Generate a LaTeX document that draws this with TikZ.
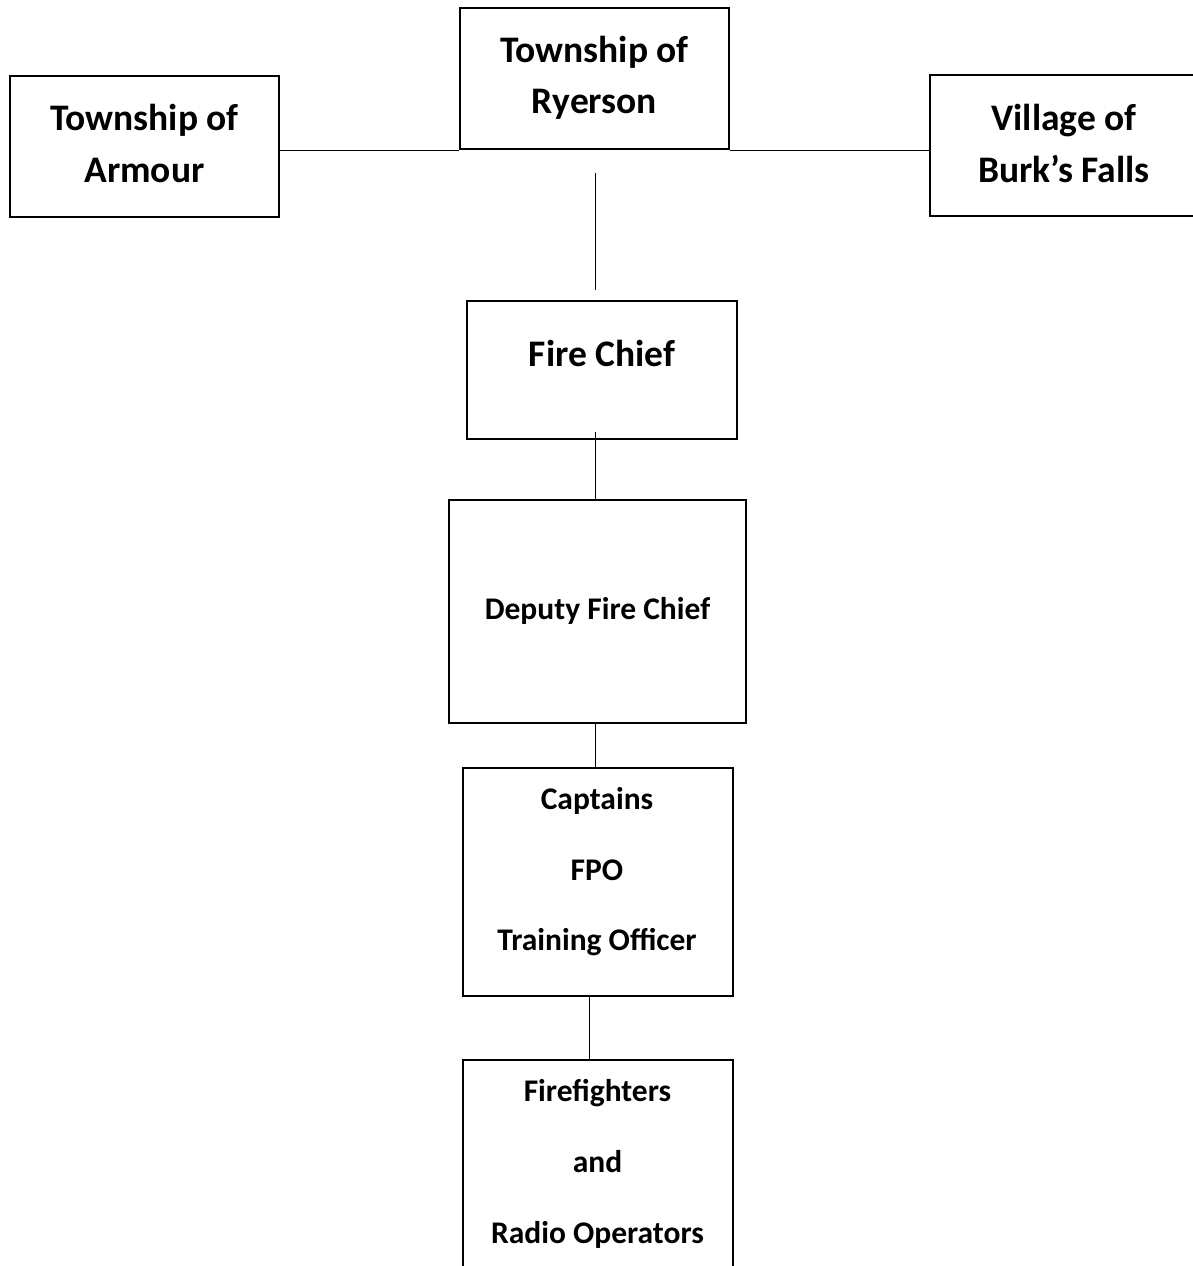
\documentclass[tikz,border=0pt]{standalone}
\usepackage{fontspec}
\setmainfont{Carlito}
\begin{document}
\begin{tikzpicture}[x=1pt,y=-1pt,
  box/.style={draw=black,line width=2.2pt,inner sep=0pt,rectangle},
  link/.style={draw=black,line width=1pt},
  big/.style={font=\bfseries\fontsize{37.5}{40}\selectfont,anchor=base,inner sep=0pt},
  small/.style={font=\bfseries\fontsize{31.5}{34}\selectfont,anchor=base,inner sep=0pt}]
\clip (0,0) rectangle (1193,1266);
\fill[white] (0,0) rectangle (1193,1266);
% boxes
\node[box,minimum width=269pt,minimum height=141pt] (armour) at (144.5,146.5) {};
\node[box,minimum width=269pt,minimum height=141pt] (ryerson) at (594.5,78.5) {};
\node[box,minimum width=269pt,minimum height=141pt] (burks) at (1064.5,145.5) {};
\node[box,minimum width=270pt,minimum height=138pt] (chief) at (602,370) {};
\node[box,minimum width=297pt,minimum height=223pt] (deputy) at (597.5,611.5) {};
\node[box,minimum width=270pt,minimum height=228pt] (captains) at (598,882) {};
\node[box,minimum width=270pt,minimum height=240pt] (fire) at (598,1180) {};
% texts
\node[big] (t1a) at (144.5,130) {Township of};
\node[big] (t1b) at (144.5,182) {Armour};
\node[big] (t2a) at (594.5,62) {Township of};
\node[big] (t2b) at (594.5,113) {Ryerson};
\node[big] (t3a) at (1064,130) {Village of};
\node[big] (t3b) at (1064,182) {Burk’s Falls};
\node[big] (t4) at (602,366) {Fire Chief};
\node[small] (t5) at (597.5,619) {Deputy Fire Chief};
\node[small] (t6a) at (597,809) {Captains};
\node[small] (t6b) at (597,880) {FPO};
\node[small] (t6c) at (597,950) {Training Officer};
\node[small] (t7a) at (597.5,1101) {Firefighters};
\node[small] (t7b) at (597.5,1172) {and};
\node[small] (t7c) at (597.5,1243) {Radio Operators};
% connector points
\coordinate (v1a) at (595,173);
\coordinate (v1b) at (595,290);
\coordinate (v2a) at (595,432);
\coordinate (v3a) at (595,723);
\coordinate (v4a) at (589,996);
% connectors
\draw[link] (armour.east |- ryerson.south) -- (ryerson.south west);
\draw[link] (ryerson.south east) -- (burks.west |- ryerson.south);
\draw[link] (v1a) -- (v1b);
\draw[link] (v2a) -- (v2a |- deputy.north);
\draw[link] (v3a) -- (v3a |- captains.north);
\draw[link] (v4a) -- (v4a |- fire.north);
\end{tikzpicture}
\end{document}
